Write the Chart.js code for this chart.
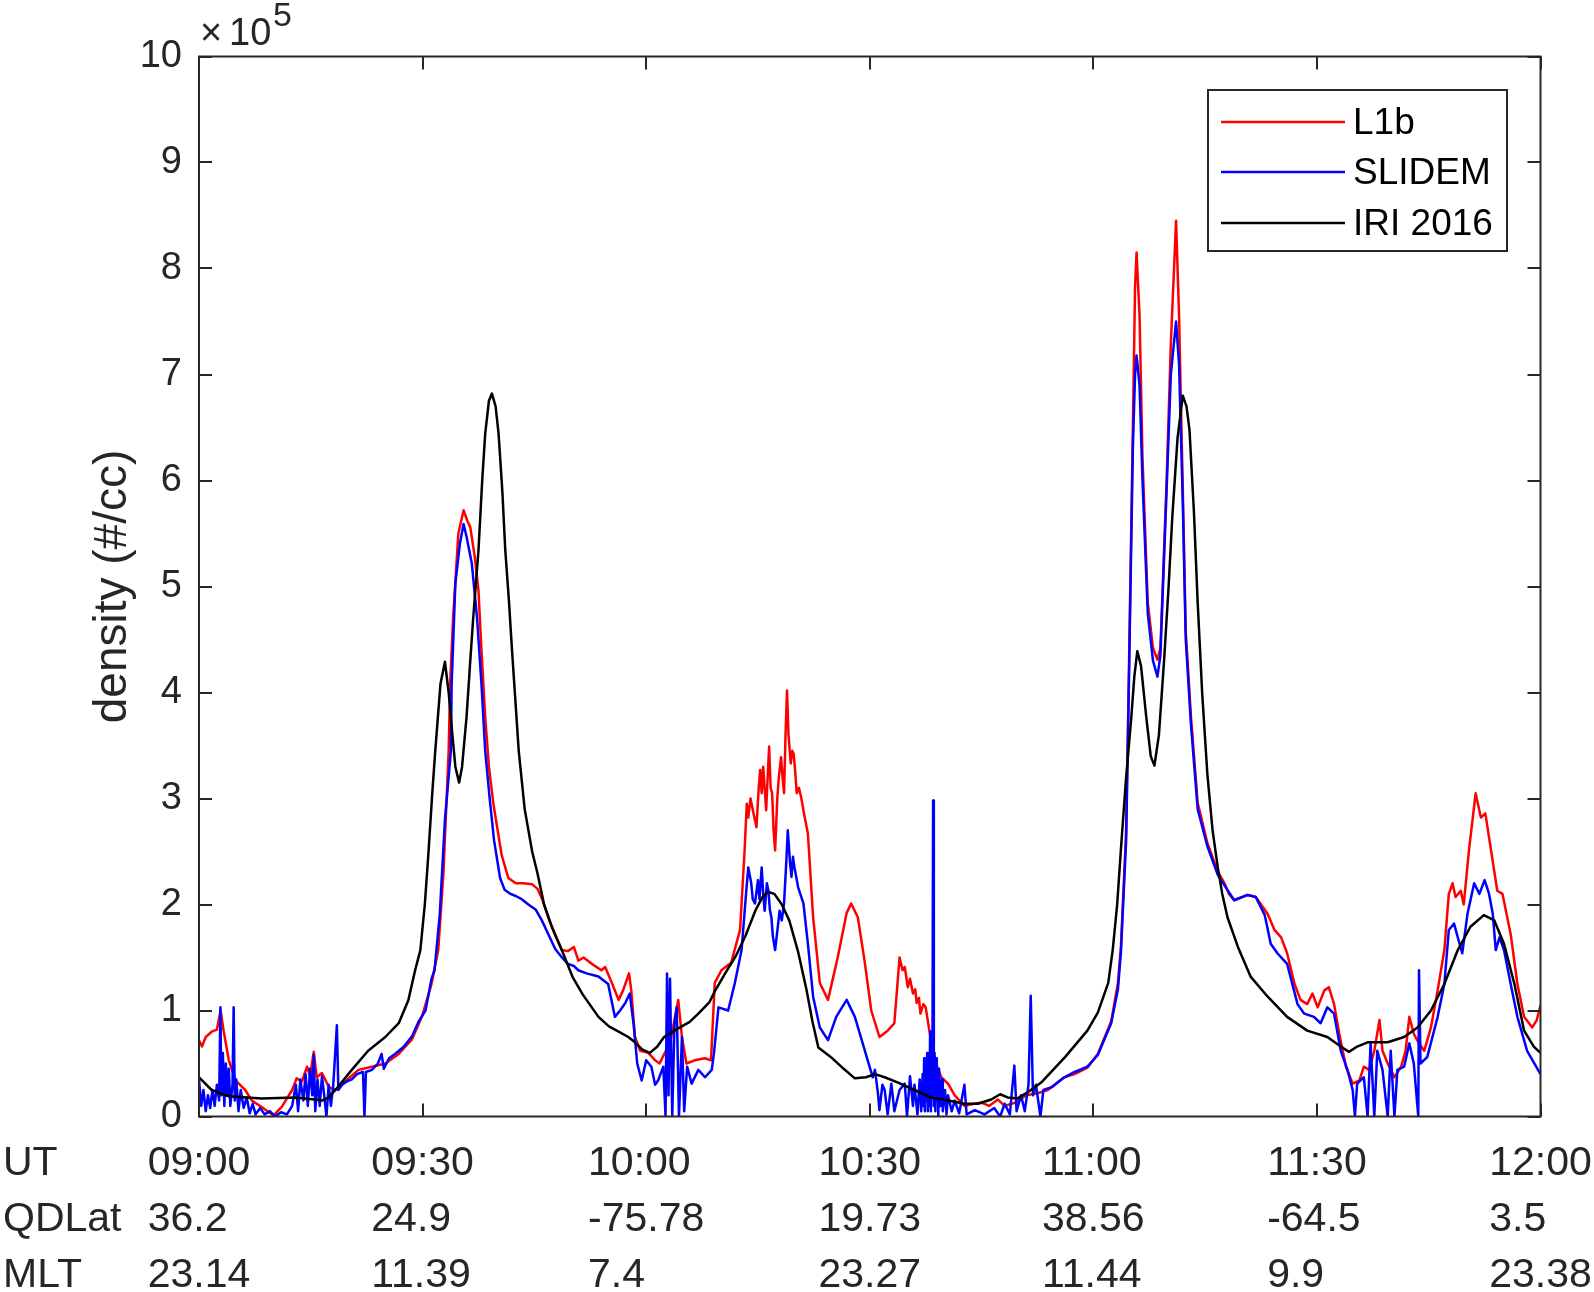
<!DOCTYPE html>
<html>
<head>
<meta charset="utf-8">
<style>
html,body{margin:0;padding:0;background:#fff;}
canvas{display:block;}
</style>
<script src="https://cdn.jsdelivr.net/npm/chart.js@4.4.1/dist/chart.umd.min.js"></script>
</head>
<body>
<canvas id="c" width="1594" height="1292"></canvas>
<script>
// ---- data (time in minutes after 09:00 UT, density in units of 1e5 #/cc) ----
const SERIES_NAMES = ['L1b', 'SLIDEM', 'IRI 2016'];
const X_TICKS = [0, 30, 60, 90, 120, 150, 180];
const UT_LABELS = ['09:00', '09:30', '10:00', '10:30', '11:00', '11:30', '12:00'];
const QDLAT_LABELS = ['36.2', '24.9', '-75.78', '19.73', '38.56', '-64.5', '3.5'];
const MLT_LABELS = ['23.14', '11.39', '7.4', '23.27', '11.44', '9.9', '23.38'];
const ROW_HEADERS = ['UT', 'QDLat', 'MLT'];
const Y_TITLE = 'density (#/cc)';

const L1B = [[0,0.72],[0.4,0.66],[0.9,0.75],[1.7,0.8],[2.4,0.82],[2.9,1.0],[3.3,0.81],[4.0,0.53],[4.9,0.34],[6.2,0.25],[7.1,0.15],[8.4,0.09],[10.0,0.01],[11.1,0.09],[12.5,0.25],[13.1,0.36],[13.8,0.33],[14.5,0.47],[14.9,0.38],[15.4,0.61],[15.8,0.37],[16.5,0.41],[17.4,0.28],[18.3,0.25],[19.6,0.33],[21.4,0.44],[23.2,0.47],[25.0,0.5],[26.8,0.59],[28.6,0.73],[29.9,0.94],[31.2,1.25],[32.1,1.57],[32.8,2.3],[33.5,3.45],[33.7,4.08],[34.1,4.71],[34.8,5.5],[35.5,5.72],[36.0,5.62],[36.4,5.56],[37.0,5.28],[37.5,4.96],[37.9,4.4],[38.4,3.77],[38.9,3.3],[39.5,2.95],[40.6,2.47],[41.5,2.25],[42.5,2.2],[43.5,2.2],[44.7,2.19],[45.4,2.15],[46.1,2.04],[47.0,1.85],[47.8,1.71],[48.7,1.57],[49.5,1.56],[50.3,1.6],[50.9,1.47],[51.6,1.5],[52.7,1.44],[54.0,1.38],[54.5,1.41],[55.4,1.26],[56.3,1.1],[56.9,1.19],[57.7,1.35],[58.0,1.19],[58.5,0.75],[59.2,0.62],[60.3,0.6],[61.2,0.53],[61.8,0.5],[62.5,0.6],[63.2,0.69],[64.3,1.1],[64.8,0.75],[65.4,0.5],[66.5,0.53],[67.9,0.55],[68.7,0.53],[69.2,1.26],[70.1,1.38],[71.4,1.45],[72.6,1.76],[73.2,2.5],[73.5,2.95],[73.7,2.82],[74.0,3.0],[74.4,2.86],[74.8,2.73],[75.1,3.1],[75.3,3.27],[75.5,3.05],[75.7,3.3],[76.1,2.89],[76.3,3.2],[76.5,3.49],[76.7,3.1],[76.9,3.05],[77.1,2.7],[77.3,2.51],[77.6,3.01],[77.8,3.2],[78.1,3.39],[78.3,3.2],[78.5,3.05],[78.7,3.6],[78.9,4.02],[79.1,3.6],[79.4,3.33],[79.6,3.45],[79.8,3.42],[80.0,3.25],[80.2,3.05],[80.5,3.1],[80.8,3.01],[81.2,2.85],[81.7,2.67],[82.4,1.88],[83.3,1.26],[84.4,1.1],[85.7,1.5],[86.9,1.92],[87.5,2.01],[88.4,1.88],[89.3,1.47],[90.2,1.0],[91.3,0.75],[92.4,0.81],[93.3,0.88],[94.0,1.5],[94.4,1.38],[94.7,1.41],[95.1,1.22],[95.4,1.3],[95.8,1.16],[96.1,1.2],[96.3,1.07],[96.6,1.12],[96.8,0.97],[97.2,1.06],[97.5,1.03],[98.0,0.81],[98.7,0.53],[99.6,0.37],[100.5,0.31],[101.4,0.2],[102.7,0.1],[104.0,0.12],[105.0,0.13],[106.0,0.1],[107.2,0.16],[108.1,0.1],[109.5,0.13],[111.0,0.2],[112.5,0.22],[113.9,0.25],[116.1,0.37],[117.5,0.4],[119.2,0.46],[120.6,0.59],[122.4,0.9],[123.3,1.26],[123.7,1.6],[124.4,2.69],[124.8,4.31],[125.3,6.48],[125.6,7.83],[125.8,8.15],[126.2,7.56],[126.6,6.21],[127.3,4.85],[128.0,4.42],[128.6,4.31],[129.0,4.42],[129.8,5.93],[130.4,7.29],[131.1,8.45],[131.5,7.56],[132.0,5.93],[132.4,4.58],[133.1,3.77],[134.0,2.96],[135.3,2.58],[136.7,2.31],[137.6,2.2],[138.2,2.1],[138.9,2.04],[140.7,2.09],[141.8,2.07],[143.4,1.91],[144.3,1.76],[145.2,1.69],[146.0,1.54],[147.0,1.25],[147.8,1.1],[148.7,1.06],[149.4,1.16],[150.1,1.03],[151.0,1.19],[151.6,1.22],[152.3,1.06],[153.0,0.78],[153.9,0.47],[154.8,0.31],[155.7,0.34],[156.3,0.47],[157.0,0.44],[157.7,0.62],[158.4,0.91],[158.8,0.62],[159.5,0.5],[160.4,0.37],[161.3,0.47],[161.9,0.62],[162.4,0.94],[163.0,0.78],[163.7,0.69],[164.4,0.62],[165.3,0.84],[166.2,1.19],[167.1,1.57],[167.7,2.1],[168.2,2.2],[168.6,2.07],[169.3,2.13],[169.7,2.0],[170.4,2.51],[171.3,3.05],[172.0,2.82],[172.6,2.86],[173.3,2.54],[174.2,2.13],[174.9,2.1],[176.0,1.72],[176.9,1.25],[177.8,0.94],[178.9,0.84],[179.5,0.91],[180,1.05]];

const SLIDEM = [[0,0.35],[0.3,0.1],[0.6,0.25],[0.9,0.05],[1.2,0.2],[1.5,0.08],[1.8,0.25],[2.1,0.1],[2.4,0.3],[2.7,0.15],[2.87,1.03],[3.0,0.2],[3.2,0.6],[3.4,0.1],[3.6,0.5],[3.8,0.2],[4.0,0.45],[4.2,0.1],[4.5,0.3],[4.65,1.03],[4.8,0.15],[5.0,0.35],[5.3,0.05],[5.6,0.25],[6.0,0.08],[6.4,0.18],[6.8,0.03],[7.2,0.12],[7.6,0.02],[8.2,0.08],[8.8,0.02],[9.5,0.05],[10.2,0.0],[11.0,0.04],[11.8,0.02],[12.5,0.1],[13.0,0.3],[13.3,0.05],[13.6,0.35],[14.0,0.15],[14.3,0.4],[14.6,0.1],[14.9,0.45],[15.2,0.2],[15.4,0.58],[15.6,0.05],[15.9,0.35],[16.2,0.1],[16.5,0.38],[16.8,0.2],[17.1,0.0],[17.4,0.3],[17.7,0.1],[18.0,0.28],[18.5,0.86],[18.7,0.25],[19.2,0.3],[19.8,0.33],[20.5,0.35],[21.2,0.4],[22.0,0.42],[22.2,0.0],[22.4,0.42],[23.2,0.44],[24.0,0.5],[24.5,0.59],[24.8,0.45],[25.5,0.55],[26.3,0.59],[27.5,0.66],[28.6,0.76],[29.5,0.9],[30.4,1.0],[31.2,1.3],[31.6,1.38],[32.3,1.9],[33.0,2.8],[33.8,3.45],[33.9,4.08],[34.4,5.03],[35.0,5.4],[35.5,5.59],[35.9,5.47],[36.6,5.22],[37.3,4.71],[37.9,4.08],[38.4,3.45],[39.0,3.0],[39.6,2.6],[40.4,2.25],[41.0,2.14],[41.8,2.1],[42.5,2.08],[43.3,2.05],[44.2,2.0],[45.2,1.95],[46.0,1.85],[47.0,1.7],[47.8,1.58],[48.7,1.5],[49.5,1.44],[50.3,1.42],[50.9,1.38],[52.0,1.35],[53.6,1.32],[54.9,1.25],[55.8,0.94],[56.5,1.0],[57.2,1.07],[57.8,1.16],[58.3,0.88],[58.8,0.5],[59.4,0.34],[60.0,0.53],[60.7,0.47],[61.2,0.3],[61.6,0.34],[62.3,0.47],[62.6,0.0],[62.8,1.35],[63.0,0.2],[63.2,1.3],[63.5,0.0],[63.8,0.88],[64.1,1.03],[64.4,0.0],[64.8,0.75],[65.1,0.05],[65.5,0.47],[66.1,0.31],[67.0,0.44],[67.9,0.37],[68.8,0.44],[69.1,0.6],[69.7,1.03],[71.0,1.0],[71.9,1.26],[72.8,1.57],[73.4,2.1],[73.7,2.35],[74.1,2.2],[74.3,2.05],[74.6,2.01],[75.0,2.23],[75.2,2.05],[75.5,2.35],[75.7,2.1],[75.9,1.94],[76.2,2.2],[76.4,2.13],[76.6,1.95],[76.8,1.88],[77.0,1.7],[77.3,1.57],[77.6,1.75],[77.9,1.94],[78.2,1.85],[78.5,2.01],[78.8,2.4],[79.0,2.7],[79.3,2.4],[79.5,2.26],[79.7,2.45],[79.9,2.35],[80.4,2.16],[81.1,2.01],[81.7,1.63],[82.4,1.13],[83.3,0.84],[84.4,0.72],[85.5,0.94],[86.9,1.1],[88.0,0.94],[89.3,0.63],[90.4,0.37],[90.7,0.44],[91.1,0.22],[91.3,0.06],[91.7,0.3],[92.0,0.25],[92.4,0.02],[92.9,0.31],[93.3,0.05],[94.0,0.25],[94.7,0.31],[95.0,0.0],[95.4,0.38],[95.8,0.1],[96.0,0.3],[96.4,0.02],[96.7,0.35],[96.9,0.05],[97.1,0.4],[97.2,0.1],[97.3,0.55],[97.4,0.05],[97.5,0.5],[97.6,0.15],[97.7,0.6],[97.8,0.05],[97.9,0.45],[98.0,0.1],[98.1,0.8],[98.2,0.05],[98.3,0.5],[98.4,0.2],[98.5,2.98],[98.6,0.1],[98.7,0.6],[98.8,0.05],[98.9,0.55],[99.0,0.15],[99.1,0.45],[99.2,0.0],[99.3,0.45],[99.5,0.1],[99.7,0.35],[99.8,0.05],[100.1,0.25],[100.3,0.02],[100.5,0.2],[101.0,0.05],[101.4,0.15],[102.0,0.03],[102.7,0.3],[103.0,0.02],[104.1,0.06],[105.4,0.02],[106.7,0.08],[107.5,0.0],[108.1,0.12],[108.8,0.02],[109.4,0.48],[109.7,0.05],[110.3,0.2],[110.8,0.05],[111.3,0.3],[111.6,1.14],[111.9,0.2],[112.3,0.3],[112.9,0.0],[113.3,0.25],[114.5,0.28],[116.1,0.37],[117.5,0.42],[119.2,0.47],[120.6,0.58],[122.4,0.88],[123.3,1.2],[123.7,1.55],[124.4,2.6],[124.8,4.2],[125.3,6.3],[125.6,7.0],[125.8,7.18],[126.2,6.9],[126.6,6.0],[127.3,4.75],[128.0,4.3],[128.6,4.15],[129.0,4.35],[129.8,5.85],[130.4,7.0],[131.1,7.5],[131.5,7.1],[132.0,5.8],[132.4,4.5],[133.1,3.7],[134.0,2.9],[135.3,2.55],[136.7,2.28],[137.6,2.18],[138.9,2.04],[140.7,2.09],[141.8,2.07],[143.0,1.9],[143.8,1.63],[144.7,1.54],[146.0,1.44],[147.4,1.06],[148.3,0.97],[149.6,0.94],[150.5,0.88],[151.4,1.03],[152.3,0.97],[153.2,0.62],[154.1,0.44],[154.8,0.25],[155.1,0.0],[155.4,0.31],[156.3,0.37],[156.8,0.0],[157.2,0.69],[157.7,0.0],[158.1,0.62],[158.8,0.44],[159.5,0.0],[159.9,0.62],[160.4,0.0],[160.8,0.44],[161.7,0.47],[162.4,0.69],[163.0,0.5],[163.6,0.0],[163.7,1.38],[163.9,0.5],[164.8,0.56],[166.2,0.94],[167.1,1.25],[167.7,1.76],[168.4,1.82],[168.9,1.69],[169.5,1.54],[170.2,1.91],[171.1,2.2],[171.8,2.1],[172.5,2.23],[173.1,2.1],[173.6,1.91],[174.0,1.57],[174.5,1.69],[175.1,1.57],[176.0,1.25],[176.9,0.94],[178.2,0.62],[180,0.4]];

const IRI = [[0,0.37],[1.7,0.25],[4,0.19],[8.4,0.17],[12.9,0.18],[15.5,0.16],[16.5,0.15],[17.4,0.18],[18.3,0.25],[20.5,0.44],[22.7,0.62],[25,0.75],[26.8,0.88],[28.1,1.1],[29.0,1.38],[29.7,1.57],[30.3,2.0],[30.8,2.5],[31.3,3.05],[31.7,3.45],[32.4,4.08],[33.0,4.29],[33.5,4.0],[34.0,3.6],[34.4,3.3],[34.9,3.15],[35.3,3.3],[35.9,3.77],[36.4,4.3],[36.8,4.71],[37.5,5.34],[38.0,6.0],[38.4,6.44],[38.9,6.75],[39.3,6.82],[39.8,6.7],[40.2,6.44],[40.7,5.9],[41.1,5.34],[41.6,4.85],[42.0,4.4],[42.9,3.45],[43.7,2.9],[44.7,2.5],[45.4,2.3],[46.3,2.0],[47.4,1.78],[48.8,1.55],[50.1,1.32],[51.5,1.15],[53.6,0.94],[55.0,0.85],[56.3,0.8],[57.6,0.75],[58.5,0.7],[59.5,0.63],[60.5,0.6],[61.5,0.66],[62.4,0.75],[64.0,0.82],[65.8,0.89],[67.0,0.97],[68.5,1.08],[69.2,1.18],[70.6,1.35],[72.0,1.51],[73.3,1.7],[74.7,1.95],[75.6,2.07],[76.3,2.12],[77.2,2.1],[78.2,2.0],[79.2,1.85],[80.4,1.55],[81.5,1.2],[82.3,0.9],[83.1,0.65],[84.8,0.56],[86.5,0.45],[88.0,0.36],[89.5,0.37],[90.7,0.4],[92,0.37],[93.8,0.32],[96,0.25],[98.2,0.18],[100.5,0.15],[102.7,0.12],[104.5,0.12],[106.3,0.16],[107.5,0.21],[108.5,0.18],[109.8,0.17],[111,0.22],[113,0.32],[116.2,0.56],[119.2,0.81],[120.6,0.98],[122,1.26],[122.6,1.57],[123.2,2.0],[123.7,2.52],[124.4,3.2],[125.1,3.77],[125.5,4.15],[125.9,4.39],[126.4,4.25],[127.1,3.77],[127.7,3.4],[128.2,3.31],[128.8,3.6],[129.5,4.31],[130.1,5.0],[130.6,5.66],[131.3,6.4],[132.0,6.8],[132.5,6.7],[132.9,6.48],[133.5,5.7],[134.0,4.85],[134.6,4.0],[135.3,3.23],[136.0,2.7],[136.7,2.35],[137.3,2.1],[138.0,1.88],[139.4,1.6],[141.1,1.32],[143.4,1.13],[146.0,0.94],[148.7,0.81],[151.4,0.75],[153.2,0.66],[154.3,0.61],[155.4,0.66],[156.8,0.7],[159.5,0.7],[161.7,0.75],[163.5,0.84],[165.3,1.0],[167.1,1.25],[168.9,1.57],[170.6,1.79],[172.4,1.9],[173.8,1.85],[175.1,1.63],[176.5,1.25],[177.8,0.81],[179.1,0.66],[180,0.6]];

// ---- styling ----
const FONT = '"Liberation Sans", Arial, Helvetica, sans-serif';
const AXIS = '#262626';
const COLORS = ['#ff0000', '#0000ff', '#000000'];

function toXY(arr){ return arr.map(p => ({x: p[0], y: p[1]})); }

const framePlugin = {
  id: 'frame',
  afterDatasetsDraw(chart) {
    const {ctx, chartArea: a, scales: {x, y}} = chart;
    const TL = 13;
    ctx.save();
    ctx.strokeStyle = AXIS;
    ctx.lineWidth = 2;
    ctx.strokeRect(a.left, a.top, a.right - a.left, a.bottom - a.top);
    ctx.beginPath();
    X_TICKS.forEach(v => {
      const px = Math.round(x.getPixelForValue(v));
      ctx.moveTo(px, a.bottom); ctx.lineTo(px, a.bottom - TL);
      ctx.moveTo(px, a.top); ctx.lineTo(px, a.top + TL);
    });
    y.ticks.forEach(t => {
      const py = Math.round(y.getPixelForValue(t.value));
      ctx.moveTo(a.left, py); ctx.lineTo(a.left + TL, py);
      ctx.moveTo(a.right, py); ctx.lineTo(a.right - TL, py);
    });
    ctx.stroke();

    // legend box
    const lx = 1208, ly = 90, lw = 299, lh = 161;
    ctx.fillStyle = '#fff';
    ctx.fillRect(lx, ly, lw, lh);
    ctx.strokeRect(lx, ly, lw, lh);
    const rowsY = [122, 172, 223];
    ctx.font = '37px ' + FONT;
    ctx.textBaseline = 'middle';
    ctx.textAlign = 'left';
    SERIES_NAMES.forEach((n, i) => {
      ctx.strokeStyle = COLORS[i];
      ctx.lineWidth = 2.5;
      ctx.beginPath();
      ctx.moveTo(1221, rowsY[i]); ctx.lineTo(1345, rowsY[i]);
      ctx.stroke();
      ctx.fillStyle = '#000';
      ctx.fillText(n, 1353, rowsY[i] + 2);
    });

    // exponent label
    ctx.fillStyle = AXIS;
    ctx.textBaseline = 'alphabetic';
    ctx.font = '38px ' + FONT;
    ctx.fillText('\u00d7', 200, 45);
    ctx.fillText('10', 229, 45);
    ctx.font = '34px ' + FONT;
    ctx.fillText('5', 273, 26);

    // bottom table: UT / QDLat / MLT
    ctx.font = '41px ' + FONT;
    ctx.textBaseline = 'middle';
    const tableRows = [UT_LABELS, QDLAT_LABELS, MLT_LABELS];
    const rowY = [a.bottom + 47, a.bottom + 103, a.bottom + 159];
    ROW_HEADERS.forEach((h, r) => ctx.fillText(h, 3, rowY[r]));
    X_TICKS.forEach((v, i) => {
      const px = x.getPixelForValue(v);
      const lines = tableRows.map(row => row[i]);
      const w = Math.max(...lines.map(s => ctx.measureText(s).width));
      lines.forEach((s, r) => ctx.fillText(s, px - w / 2, rowY[r]));
    });
    ctx.restore();
  }
};

const orders = [3, 2, 1];
new Chart(document.getElementById('c'), {
  type: 'line',
  data: {
    datasets: [L1B, SLIDEM, IRI].map((d, i) => ({
      label: SERIES_NAMES[i],
      data: toXY(d),
      borderColor: COLORS[i],
      backgroundColor: COLORS[i],
      borderWidth: 2.5,
      pointRadius: 0,
      tension: 0,
      fill: false,
      borderJoinStyle: 'round',
      order: orders[i]
    }))
  },
  options: {
    responsive: false,
    animation: false,
    devicePixelRatio: 1,
    layout: {padding: {left: 0, right: 53.5, top: 56.5, bottom: 175.5}},
    plugins: {legend: {display: false}, tooltip: {enabled: false}},
    scales: {
      x: {
        type: 'linear', min: 0, max: 180,
        ticks: {display: false},
        grid: {display: false, drawTicks: false},
        border: {display: false},
        afterFit(s) { s.height = 0; s.paddingLeft = 0; s.paddingRight = 0; }
      },
      y: {
        type: 'linear', min: 0, max: 10,
        afterFit(s) { s.width = 199; },
        ticks: {stepSize: 1, autoSkip: false, color: AXIS, padding: 17, font: {family: FONT, size: 38}},
        grid: {display: false, drawTicks: false},
        border: {display: false},
        title: {display: true, text: Y_TITLE, color: AXIS, font: {family: FONT, size: 46}, padding: {top: 86, bottom: 0}}
      }
    }
  },
  plugins: [framePlugin]
});
</script>
</body>
</html>
